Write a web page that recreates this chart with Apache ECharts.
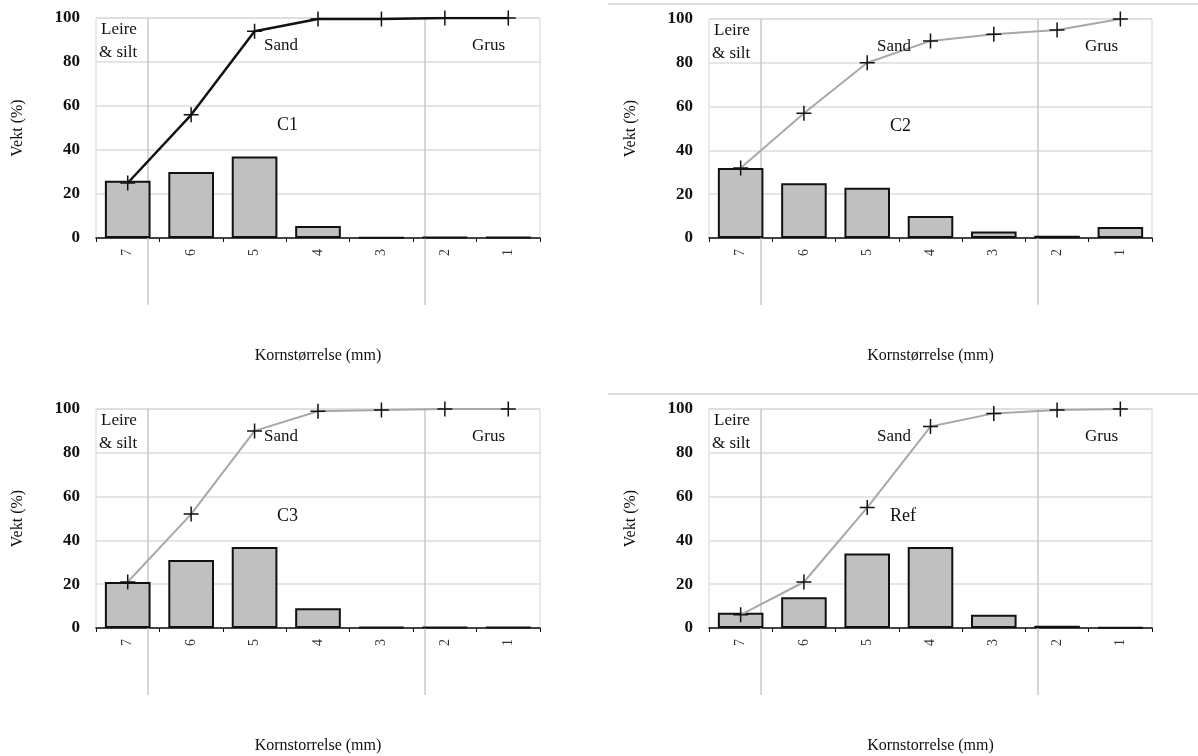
<!DOCTYPE html>
<html>
<head>
<meta charset="utf-8">
<script src="https://cdn.jsdelivr.net/npm/echarts@6/dist/echarts.min.js"></script>
<style>
  html, body { margin: 0; padding: 0; background: #fff; }
  #chart { width: 1198px; height: 756px; }
</style>
</head>
<body>
<div id="chart"></div>
<script>
// grain size classes (phi-like numbering), left to right
const categories = ['7', '6', '5', '4', '3', '2', '1']
const yTicks = [0, 20, 40, 60, 80, 100]

// weight per class (%) - bars
const c1Bars = [26, 30, 37, 5.5, 0.2, 0.4, 0.4]
const c2Bars = [32, 25, 23, 10, 3, 1, 5]
const c3Bars = [21, 31, 37, 9, 0.5, 0.4, 0.4]
const refBars = [7, 14, 34, 37, 6, 1, 0.3]

// cumulative weight (%) - lines
const c1Cum = [25, 56, 94, 99.5, 99.5, 100, 100]
const c2Cum = [32, 57, 80, 90, 93, 95, 100]
const c3Cum = [21, 52, 90, 99, 99.5, 100, 100]
const refCum = [6, 21, 55, 92, 98, 99.5, 100]

const panelNames = ['C1', 'C2', 'C3', 'Ref']
const xTitles = ['Kornstørrelse (mm)', 'Kornstørrelse (mm)', 'Kornstorrelse (mm)', 'Kornstorrelse (mm)']

const serif = '"Liberation Serif", "DejaVu Serif", serif'
const plus = 'path://M9,0h2v20h-2zM0,9h20v2h-20z'

const panels = [
  { bars: c1Bars, cum: c1Cum, line: '#111111', lw: 2.5, left: 96, top: 18, width: 444, height: 220, vLineEnd: 305 },
  { bars: c2Bars, cum: c2Cum, line: '#a8a8a8', lw: 2, left: 709, top: 19, width: 443, height: 219, vLineEnd: 305 },
  { bars: c3Bars, cum: c3Cum, line: '#a8a8a8', lw: 2, left: 96, top: 409, width: 444, height: 219, vLineEnd: 695 },
  { bars: refBars, cum: refCum, line: '#a8a8a8', lw: 2, left: 709, top: 409, width: 443, height: 219, vLineEnd: 695 }
]

const grid = []
const xAxis = []
const yAxis = []
const series = []
const graphic = []

panels.forEach((p, i) => {
  grid.push({
    left: p.left, top: p.top, width: p.width, height: p.height,
    show: true, borderColor: '#d4d4d4', borderWidth: 1, backgroundColor: 'transparent'
  })
  xAxis.push({
    type: 'category', gridIndex: i, data: categories,
    axisLine: { lineStyle: { color: '#111', width: 1.5 } },
    axisTick: { show: true, length: 4, lineStyle: { color: '#111' } },
    axisLabel: { rotate: 90, margin: 11, color: '#333', fontFamily: serif, fontSize: 14 },
    name: xTitles[i], nameLocation: 'middle', nameGap: 110,
    nameTextStyle: { fontFamily: serif, fontSize: 16, color: '#111' }
  })
  yAxis.push({
    type: 'value', gridIndex: i, min: yTicks[0], max: yTicks[yTicks.length - 1], interval: 20,
    axisLine: { show: false }, axisTick: { show: false },
    splitLine: { lineStyle: { color: '#dcdcdc', width: 1.5 } },
    axisLabel: { margin: 16, color: '#111', fontFamily: serif, fontSize: 17, fontWeight: 'bold' },
    name: 'Vekt (%)', nameLocation: 'middle', nameGap: 70, nameRotate: 90,
    nameTextStyle: { fontFamily: serif, fontSize: 16, color: '#111' }
  })
  series.push({
    type: 'bar', xAxisIndex: i, yAxisIndex: i, data: p.bars, barWidth: '72%',
    itemStyle: { color: '#c0c0c0', borderColor: '#111', borderWidth: 2 },
    silent: true, z: 2
  })
  series.push({
    type: 'line', xAxisIndex: i, yAxisIndex: i, data: p.cum,
    lineStyle: { color: p.line, width: p.lw },
    symbol: plus, symbolSize: 15, showSymbol: true,
    itemStyle: { color: '#111' },
    silent: true, z: 5
  })

  // soil class boundaries and labels
  const x1 = p.left + 52
  const x2 = p.left + 329
  ;[x1, x2].forEach(x => {
    graphic.push({
      type: 'line', silent: true, z: 1,
      shape: { x1: x, y1: p.top, x2: x, y2: p.vLineEnd },
      style: { stroke: '#c8c8c8', lineWidth: 1.5 }
    })
  })
  const txt = (t, x, y, size) => graphic.push({
    type: 'text', x, y, silent: true, z: 10,
    style: { text: t, fontFamily: serif, fontSize: size, fill: '#111', textVerticalAlign: 'middle' }
  })
  txt('Leire', p.left + 5, p.top + 12, 17)
  txt('& silt', p.left + 3, p.top + 35, 17)
  txt('Sand', p.left + 168, p.top + 28, 17)
  txt('Grus', p.left + 376, p.top + 28, 17)
  txt(panelNames[i], p.left + 181, p.top + 107, 18)
})

// faint separator lines above the right-hand panels
graphic.push({ type: 'line', silent: true, shape: { x1: 608, y1: 4, x2: 1198, y2: 4 }, style: { stroke: '#dedede', lineWidth: 2 } })
graphic.push({ type: 'line', silent: true, shape: { x1: 608, y1: 394, x2: 1198, y2: 394 }, style: { stroke: '#dedede', lineWidth: 2 } })

const chart = echarts.init(document.getElementById('chart'))
chart.setOption({
  animation: false,
  grid, xAxis, yAxis, series, graphic
})
</script>
</body>
</html>
